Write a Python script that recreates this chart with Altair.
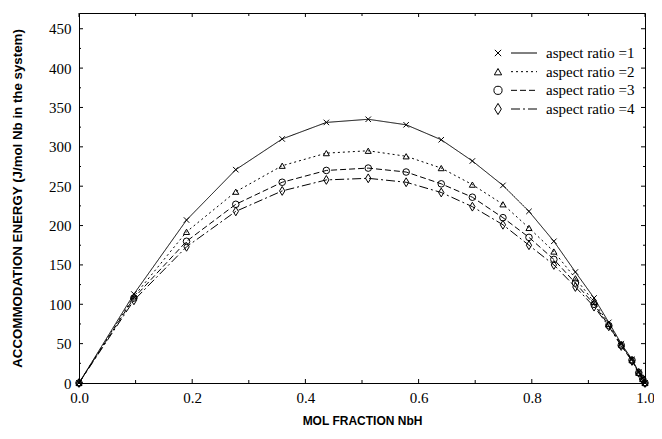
import altair as alt
import pandas as pd

# ---- data ----
x_frac = [0.0, 0.097, 0.19, 0.277, 0.359, 0.437, 0.511, 0.578, 0.64, 0.695, 0.749,
          0.795, 0.839, 0.877, 0.91, 0.936, 0.958, 0.977, 0.989, 0.996, 1.0]
ar1 = [0, 113, 207, 271, 310, 331, 335, 328, 309, 282, 251, 218, 180, 141, 108, 77, 50, 30, 14, 6, 0]
ar2 = [0, 110, 192, 243, 276, 292, 295, 288, 273, 252, 227, 197, 167, 133, 103, 75, 49, 29, 13, 5, 0]
ar3 = [0, 108, 180, 227, 255, 270, 273, 268, 253, 236, 210, 185, 157, 127, 100, 73, 48, 29, 13, 5, 0]
ar4 = [0, 105, 173, 218, 244, 258, 260, 255, 242, 224, 201, 175, 150, 122, 97, 72, 47, 28, 13, 5, 0]

series_labels = ["aspect ratio =1", "aspect ratio =2", "aspect ratio =3", "aspect ratio =4"]
dashes = [[1, 0], [2, 3], [6, 3], [9, 3, 2, 3]]
shapes = ["M-1,-1L1,1M-1,1L1,-1", "triangle-up", "circle", "M0,-1.25L0.75,0L0,1.25L-0.75,0Z"]
marker_sizes = [30, 50, 45, 55]
legend_sizes = [40, 80, 70, 90]

y_labels = [0, 50, 100, 150, 200, 250, 300, 350, 400, 450]
y_minor = [25, 75, 125, 175, 225, 275, 325, 375, 425]
x_labels = [0.0, 0.2, 0.4, 0.6, 0.8, 1.0]
x_minor = [0.1, 0.3, 0.5, 0.7, 0.9]

W, H = 566, 370
FONT_SERIF = "Liberation Serif"
FONT_SANS = "Liberation Sans"

rows = []
for lab, vals in zip(series_labels, [ar1, ar2, ar3, ar4]):
    for xv, yv in zip(x_frac, vals):
        rows.append({"x": xv, "y": yv, "series": lab})
df = pd.DataFrame(rows)

xscale = alt.Scale(domain=[0, 1], nice=False, zero=False)
yscale = alt.Scale(domain=[0, 470], nice=False)
dash_scale = alt.Scale(domain=series_labels, range=dashes)
shape_scale = alt.Scale(domain=series_labels, range=shapes)

X = alt.X("x:Q", scale=xscale,
          axis=alt.Axis(values=x_labels, format=".1f", title="MOL FRACTION NbH",
                        ticks=False, domain=False, grid=False, labelPadding=7,
                        labelFlush=False, labelFont=FONT_SERIF, labelFontSize=15,
                        labelColor="black", titleFont=FONT_SANS, titleFontWeight="bold",
                        titleColor="black", titlePadding=10, titleFontSize=12))
Y = alt.Y("y:Q", scale=yscale,
          axis=alt.Axis(values=y_labels, format="d",
                        title="ACCOMMODATION ENERGY (J/mol Nb in the system)",
                        ticks=False, domain=False, grid=False, labelPadding=8,
                        labelFlush=False, labelFont=FONT_SERIF, labelFontSize=15,
                        labelColor="black", titleFont=FONT_SANS, titleFontWeight="bold",
                        titleColor="black", titlePadding=24, titleFontSize=13.3))

lines = alt.Chart(df).mark_line(color="black", strokeWidth=1).encode(
    x=X, y=Y,
    strokeDash=alt.StrokeDash("series:N", scale=dash_scale, legend=None),
    detail="series:N",
)
points = alt.Chart(df).mark_point(filled=False, color="black", strokeWidth=1, opacity=1).encode(
    x="x:Q", y="y:Q",
    shape=alt.Shape("series:N", scale=shape_scale, legend=None),
    size=alt.Size("series:N", scale=alt.Scale(domain=series_labels, range=marker_sizes), legend=None),
)

ymaj = pd.DataFrame({"v": y_labels})
ymin = pd.DataFrame({"v": y_minor})
xmaj = pd.DataFrame({"v": x_labels})
xmin = pd.DataFrame({"v": x_minor})

def yticks(d, length):
    left = alt.Chart(d).mark_rule(color="black", strokeWidth=1).encode(
        y=alt.Y("v:Q", scale=yscale), x=alt.value(0), x2=alt.value(length))
    right = alt.Chart(d).mark_rule(color="black", strokeWidth=1).encode(
        y=alt.Y("v:Q", scale=yscale), x=alt.value(W - length), x2=alt.value(W))
    return [left, right]

def xticks(d, length):
    bottom = alt.Chart(d).mark_rule(color="black", strokeWidth=1).encode(
        x=alt.X("v:Q", scale=xscale), y=alt.value(H - length), y2=alt.value(H))
    top = alt.Chart(d).mark_rule(color="black", strokeWidth=1).encode(
        x=alt.X("v:Q", scale=xscale), y=alt.value(0), y2=alt.value(length))
    return [bottom, top]

ticks = yticks(ymaj, 4) + yticks(ymin, 2) + xticks(xmaj, 4) + xticks(xmin, 3)

main = alt.layer(lines, points, *ticks)

# ---- legend (inside top-right) ----
leg_df = pd.DataFrame({"series": series_labels, "row": [0, 1, 2, 3]})
rowY = alt.Y("row:Q", scale=alt.Scale(domain=[0, 3], range=[40, 96]), axis=None)

leg_pts = alt.Chart(leg_df).mark_point(filled=False, color="black", strokeWidth=1, opacity=1).encode(
    x=alt.value(419), y=rowY,
    shape=alt.Shape("series:N", scale=shape_scale, legend=None),
    size=alt.Size("series:N", scale=alt.Scale(domain=series_labels, range=legend_sizes), legend=None),
)
leg_lines = alt.Chart(leg_df).mark_rule(color="black", strokeWidth=1).encode(
    x=alt.value(432), x2=alt.value(458), y=rowY,
    strokeDash=alt.StrokeDash("series:N", scale=dash_scale, legend=None),
)
leg_text = alt.Chart(leg_df).mark_text(align="left", baseline="middle", font=FONT_SERIF,
                                       fontSize=15, color="black").encode(
    x=alt.value(467), y=rowY, text="series:N")

legend = alt.layer(leg_pts, leg_lines, leg_text)

chart = alt.layer(main, legend).resolve_scale(y="independent", size="independent").properties(
    width=W, height=H,
    background="white",
    autosize=alt.AutoSizeParams(type="none"),
    padding={"left": 71, "top": 5, "right": 9, "bottom": 48},
).configure_view(
    stroke="black", strokeWidth=1
)

chart.save("out.html", embed_options={"renderer": "svg", "actions": False})
